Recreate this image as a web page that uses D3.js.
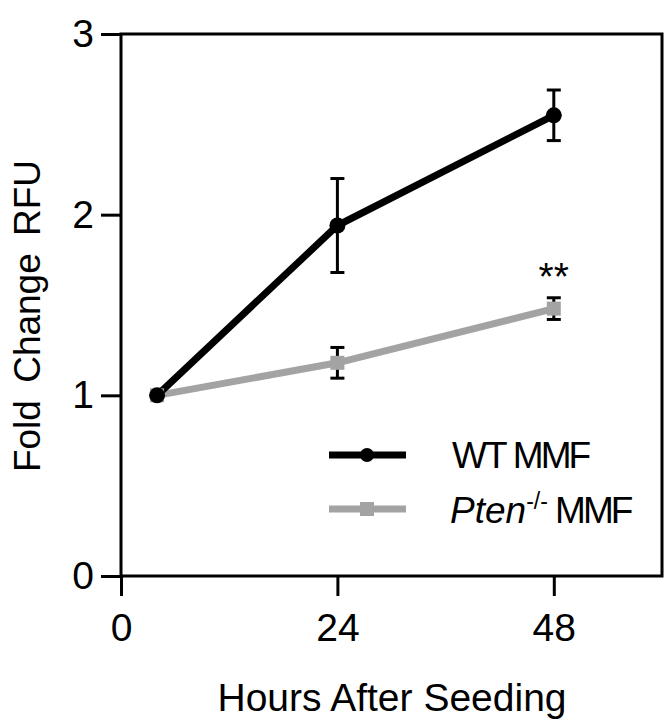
<!DOCTYPE html>
<html><head><meta charset="utf-8">
<script src="https://cdn.jsdelivr.net/npm/d3@7"></script>
<style>body{margin:0;background:#fff}svg text{font-family:Arial,"Liberation Sans",sans-serif;fill:#000}</style>
</head><body>
<script>
const hours = [4, 24, 48];
const wtMean = [1.0, 1.94, 2.55];
const wtErr = [0.0, 0.26, 0.14];
const ptenMean = [1.0, 1.18, 1.48];
const ptenErr = [0.0, 0.085, 0.06];
const xTicks = [0, 24, 48];
const yTicks = [0, 1, 2, 3];
const seriesNames = ["WT MMF", "Pten"];

const W = 671, H = 726;
const svg = d3.select("body").append("svg").attr("width", W).attr("height", H);
const x = d3.scaleLinear().domain([0, 60]).range([121, 662]);
const y = d3.scaleLinear().domain([0, 3]).range([576, 34]);
const gray = "#a3a3a3";
const FS = "39px";

// frame
svg.append("rect").attr("x", 121).attr("y", 34).attr("width", 662 - 121).attr("height", 576 - 34)
  .attr("fill", "none").attr("stroke", "#000").attr("stroke-width", 3);

// axes
const yAx = svg.append("g").attr("transform", "translate(121,0)")
  .call(d3.axisLeft(y).tickValues(yTicks).tickFormat(d3.format("d")).tickSize(20).tickPadding(7));
const xAx = svg.append("g").attr("transform", "translate(0,576)")
  .call(d3.axisBottom(x).tickValues(xTicks).tickFormat(d3.format("d")).tickSize(20).tickPadding(17));
[yAx, xAx].forEach(g => {
  g.select(".domain").remove();
  g.selectAll("line").attr("stroke", "#000").attr("stroke-width", 3);
  g.selectAll("text").style("font-size", FS).style("font-family", "Arial, 'Liberation Sans', sans-serif").attr("fill", "#000");
});

// axis titles
svg.append("text").attr("x", 392).attr("y", 711).attr("text-anchor", "middle")
  .style("font-size", FS).text("Hours After Seeding");
svg.append("text").attr("transform", "translate(40,316) rotate(-90)").attr("text-anchor", "middle")
  .style("font-size", "37px").style("word-spacing", "7px").text("Fold Change RFU");

function errbars(mean, err, color) {
  hours.forEach((h, i) => {
    if (err[i] <= 0) return;
    const g = svg.append("g").attr("stroke", color).attr("stroke-width", 3);
    g.append("line").attr("x1", x(h)).attr("x2", x(h)).attr("y1", y(mean[i] + err[i])).attr("y2", y(mean[i] - err[i]));
    [mean[i] + err[i], mean[i] - err[i]].forEach(v =>
      g.append("line").attr("x1", x(h) - 7).attr("x2", x(h) + 7).attr("y1", y(v)).attr("y2", y(v)));
  });
}
errbars(wtMean, wtErr, "#000");
errbars(ptenMean, ptenErr, "#000");

const line = d3.line().x((d, i) => x(hours[i])).y(d => y(d));
svg.append("path").datum(ptenMean).attr("d", line).attr("fill", "none").attr("stroke", gray).attr("stroke-width", 7);
svg.append("path").datum(wtMean).attr("d", line).attr("fill", "none").attr("stroke", "#000").attr("stroke-width", 7);

svg.selectAll(".sq").data(ptenMean).enter().append("rect")
  .attr("x", (d, i) => x(hours[i]) - 7).attr("y", d => y(d) - 7).attr("width", 14).attr("height", 14).attr("fill", gray);
svg.selectAll(".ci").data(wtMean).enter().append("circle")
  .attr("cx", (d, i) => x(hours[i])).attr("cy", d => y(d)).attr("r", 8).attr("fill", "#000");

// significance
svg.append("text").attr("x", x(48)).attr("y", 290).attr("text-anchor", "middle").style("font-size", FS).text("**");

// legend
const lg = svg.append("g");
lg.append("line").attr("x1", 329).attr("x2", 406).attr("y1", 455).attr("y2", 455).attr("stroke", "#000").attr("stroke-width", 7);
lg.append("circle").attr("cx", 367).attr("cy", 455).attr("r", 7).attr("fill", "#000");
lg.append("line").attr("x1", 329).attr("x2", 406).attr("y1", 509).attr("y2", 509).attr("stroke", gray).attr("stroke-width", 7);
lg.append("rect").attr("x", 360).attr("y", 502).attr("width", 14).attr("height", 14).attr("fill", gray);
const t1 = lg.append("text").attr("x", 452).attr("y", 468).style("font-size", "37px");
t1.append("tspan").style("letter-spacing", "-2px").text("WT");
t1.append("tspan").style("letter-spacing", "-3px").text(" MMF");
const t2 = lg.append("text").attr("x", 450).attr("y", 523).style("font-size", "37px");
t2.append("tspan").style("font-style", "italic").text(seriesNames[1]);
t2.append("tspan").attr("dy", -14).style("font-size", "23px").text("-/-");
t2.append("tspan").attr("dy", 14).style("letter-spacing", "-3px").text(" MMF");
</script>
</body></html>
